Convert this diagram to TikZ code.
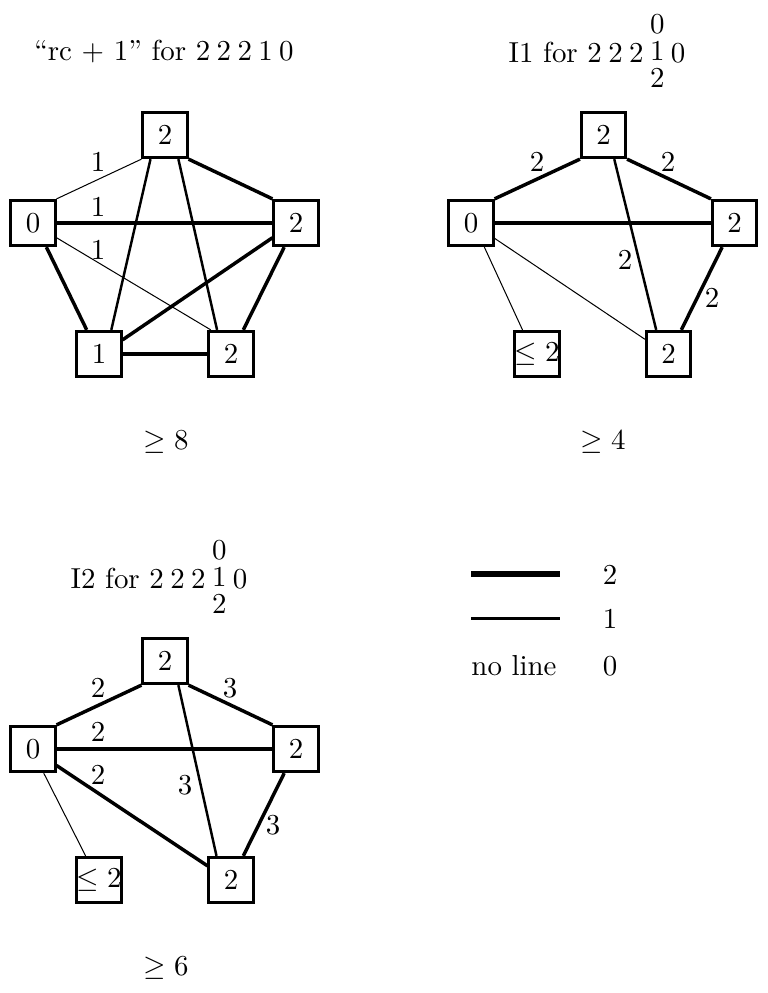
\documentclass[tikz,border=0pt]{standalone}
\newcommand{\mystack}{\begingroup\renewcommand{\arraystretch}{0.78}\begin{array}{@{}c@{}}0\\1\\2\end{array}\endgroup}
\begin{document}
\begin{tikzpicture}[x=0.346pt,y=-0.346pt,
  box/.style={draw,line width=1pt,minimum width=15.3pt,minimum height=15.7pt,inner sep=0pt},
  lab/.style={inner sep=0pt},
  thinline/.style={line width=0.35pt},
  midline/.style={line width=0.85pt},
  thickline/.style={line width=1.2pt},
  heavyline/.style={line width=1.5pt},
  keythick/.style={line width=2pt},
  keythin/.style={line width=1pt}]
\useasboundingbox (0,0) rectangle (767,993);

% ---------- Panel 1 ----------
\node[anchor=base] (t1) at (164,60) {``rc $+$ 1'' for $2\:2\:2\:1\:0$};
\node[box] (aT) at (165,135) {$2$};
\node[box] (aL) at (33,223) {$0$};
\node[box] (aR) at (296,223) {$2$};
\node[box] (aA) at (99,354) {$1$};
\node[box] (aB) at (231,354) {$2$};
\draw[thinline] (aL.north east) -- (aT.south west);
\draw[heavyline] (aL.east) -- (aR.west);
\draw[thinline] (aL.-32) -- (aB.130);
\draw[thickline] (aL.-61) -- (aA.117);
\draw[midline] (aT.-121) -- (aA.63);
\draw[midline] (aT.-61) -- (aB.120);
\draw[thickline] (aT.south east) -- (aR.north west);
\draw[thickline] (aR.-148) -- (aA.31);
\draw[thickline] (aR.-116) -- (aB.63);
\draw[heavyline] (aA.east) -- (aB.west);
\node[lab] (al1) at (98,162) {$1$};
\node[lab] (al2) at (98,207) {$1$};
\node[lab] (al3) at (98,250) {$1$};
\node (g1) at (166,442) {$\geq 8$};

% ---------- Panel 2 ----------
\node[anchor=base] (t2) at (597,62) {I1 for $2\:2\:2\:\mystack\:0$};
\node[box] (bT) at (603.5,135) {$2$};
\node[box] (bL) at (471,223) {$0$};
\node[box] (bR) at (734.5,223) {$2$};
\node[box] (bA) at (537,354) {$\leq 2$};
\node[box] (bB) at (668.5,354) {$2$};
\draw[thickline] (bL.north east) -- (bT.south west);
\draw[thickline] (bT.south east) -- (bR.north west);
\draw[thickline] (bL.east) -- (bR.west);
\draw[midline] (bT.-66) -- (bB.117);
\draw[thickline] (bR.-117) -- (bB.62);
\draw[thinline] (bL.-61) -- (bA.121);
\draw[thinline] (bL.-33) -- (bB.148);
\node[lab] (bl1) at (537,162) {$2$};
\node[lab] (bl2) at (668,162) {$2$};
\node[lab] (bl3) at (625,260) {$2$};
\node[lab] (bl4) at (712,298) {$2$};
\node (g2) at (603,442) {$\geq 4$};

% ---------- Panel 3 ----------
\node[anchor=base] (t3) at (159,588) {I2 for $2\:2\:2\:\mystack\:0$};
\node[box] (cT) at (165,661) {$2$};
\node[box] (cL) at (33,749) {$0$};
\node[box] (cR) at (296,749) {$2$};
\node[box] (cA) at (99,880) {$\leq 2$};
\node[box] (cB) at (231,880) {$2$};
\draw[thickline] (cL.north east) -- (cT.south west);
\draw[thickline] (cT.south east) -- (cR.north west);
\draw[thickline] (cL.east) -- (cR.west);
\draw[thickline] (cL.-35) -- (cB.149);
\draw[midline] (cT.-61) -- (cB.121);
\draw[thickline] (cR.-116) -- (cB.63);
\draw[thinline] (cL.-66) -- (cA.119);
\node[lab] (cl1) at (98,688) {$2$};
\node[lab] (cl2) at (230,688) {$3$};
\node[lab] (cl3) at (98,732) {$2$};
\node[lab] (cl4) at (98,775) {$2$};
\node[lab] (cl5) at (185,785) {$3$};
\node[lab] (cl6) at (273,825) {$3$};
\node (g3) at (166,968) {$\geq 6$};

% ---------- Legend ----------
\coordinate (k2a) at (471,574);
\coordinate (k2b) at (560,574);
\coordinate (k1a) at (471,618.5);
\coordinate (k1b) at (560,618.5);
\draw[keythick] (k2a) -- (k2b);
\draw[keythin] (k1a) -- (k1b);
\node[anchor=base] (k2) at (610,584) {$2$};
\node[anchor=base] (k1) at (610,628) {$1$};
\node[anchor=base] (k0t) at (514,675) {no line};
\node[anchor=base] (k0) at (610,675) {$0$};
\end{tikzpicture}
\end{document}
